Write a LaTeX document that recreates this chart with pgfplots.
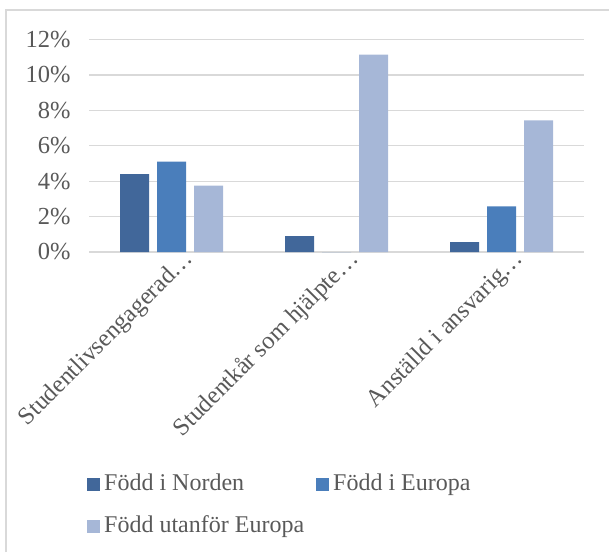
\documentclass[border=0pt]{standalone}
\usepackage{pgfplots}
\pgfplotsset{compat=1.18}
\usepackage{fontspec}
\setmainfont{Liberation Serif}
\definecolor{cNorden}{HTML}{41679A}
\definecolor{cEuropa}{HTML}{4A7EBB}
\definecolor{cUtan}{HTML}{A6B7D7}
\definecolor{gridc}{HTML}{D9D9D9}
\definecolor{txt}{HTML}{595959}
\begin{document}
\begin{tikzpicture}
\useasboundingbox (0,0) rectangle (609pt,552pt);
\draw[gridc, line width=1.5pt] (6pt,0pt) -- (6pt,542pt) -- (609pt,542pt);
\begin{axis}[
  at={(89pt,300pt)}, anchor=south west,
  scale only axis, width=495pt, height=212.5pt,
  xmin=-0.5, xmax=2.5, ymin=0, ymax=12,
  ybar=8pt, bar width=29pt,
  axis line style={draw=none},
  major tick length=0pt,
  ymajorgrids, grid style={gridc, line width=1.3pt},
  ytick={0,2,4,6,8,10,12},
  yticklabels={0\%,2\%,4\%,6\%,8\%,10\%,12\%},
  xtick={0,1,2},
  xticklabels={Studentlivsengagerad\ldots,Studentkår som hjälpte\ldots,Anställd i ansvarig\ldots},
  tick label style={font=\fontsize{24.5}{28}\selectfont, text=txt},
  yticklabel style={xshift=-15pt},
  xticklabel style={rotate=45, anchor=north east, xshift=14pt, yshift=-1pt},
  legend columns=2,
  legend cell align=left,
  legend style={at={(-0.004,-1.045)}, anchor=north west, draw=none, fill=none,
    font=\fontsize{24}{28}\selectfont, text=txt, inner sep=0pt,
    nodes={inner sep=0pt, text height=16pt, text depth=5pt},
    row sep=21pt,
    /tikz/every even column/.append style={column sep=12pt},
    /tikz/every odd column/.append style={column sep=4pt}},
  legend image code/.code={\fill[#1] (0pt,-6.5pt) rectangle (13pt,6.5pt);},
]
\addplot[fill=cNorden, draw=none] coordinates {(0,4.4) (1,0.9) (2,0.56)};
\addplot[fill=cEuropa, draw=none] coordinates {(0,5.1) (1,0) (2,2.58)};
\addplot[fill=cUtan, draw=none] coordinates {(0,3.75) (1,11.15) (2,7.44)};
\legend{Född i Norden, Född i Europa, Född utanför Europa}
\end{axis}
\end{tikzpicture}
\end{document}
